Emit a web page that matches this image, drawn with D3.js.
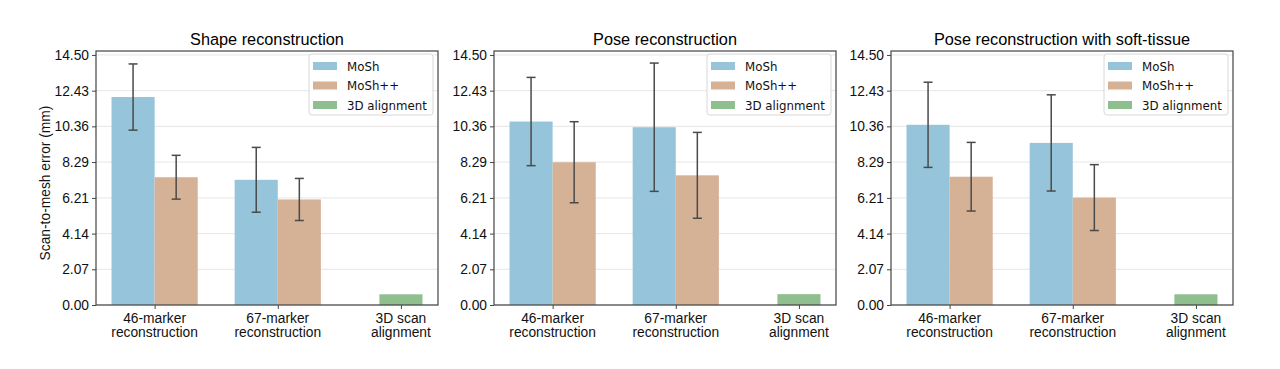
<!DOCTYPE html>
<html>
<head>
<meta charset="utf-8">
<script src="https://cdn.jsdelivr.net/npm/d3@7"></script>
<style>
  body { margin: 0; background: #fff; }
  svg { display: block; }
</style>
</head>
<body>
<div id="chart"></div>
<script>
// Data
const categories = ['46-marker\nreconstruction', '67-marker\nreconstruction', '3D scan\nalignment'];
const titles = ['Shape reconstruction', 'Pose reconstruction', 'Pose reconstruction with soft-tissue'];
const seriesNames = ['MoSh', 'MoSh++', '3D alignment'];
const yTicks = [0, 2.07, 4.14, 6.21, 8.29, 10.36, 12.43, 14.50];

// per panel: [46-marker, 67-marker]
const moshMean = [[12.06, 7.26], [10.64, 10.31], [10.45, 9.40]];
const moshErr  = [[1.92, 1.88], [2.56, 3.72], [2.47, 2.79]];
const moshppMean = [[7.41, 6.12], [8.28, 7.52], [7.44, 6.23]];
const moshppErr  = [[1.27, 1.22], [2.35, 2.49], [1.99, 1.91]];
const alignMean = [0.62, 0.63, 0.62];

const colors = ['#96c4da', '#d5b196', '#8fbf8f'];

const width = 1280, height = 369;
const svg = d3.select('#chart').append('svg')
  .attr('width', width).attr('height', height);

// Layout of the three axes
const panels = [
  { left: 96, right: 438 },
  { left: 494, right: 836 },
  { left: 891, right: 1233 }
];
const plotTop = 51, plotBottom = 305;
const barW = 0.35;

const y = d3.scaleLinear().domain([0, 14.73]).range([plotBottom, plotTop]);

panels.forEach((p, pi) => {
  const x = d3.scaleLinear().domain([-0.476, 2.301]).range([p.left, p.right]);
  const g = svg.append('g');
  const px = v => x(v) - x(0);

  // grid
  g.selectAll('.grid').data(yTicks).enter().append('line')
    .attr('x1', p.left).attr('x2', p.right)
    .attr('y1', d => y(d)).attr('y2', d => y(d))
    .attr('stroke', '#e6e6e6').attr('stroke-width', 1);

  // bars
  const bars = [];
  [0, 1].forEach(ci => {
    bars.push({ x: ci - barW / 2, v: moshMean[pi][ci], e: moshErr[pi][ci], c: colors[0] });
    bars.push({ x: ci + barW / 2, v: moshppMean[pi][ci], e: moshppErr[pi][ci], c: colors[1] });
  });
  bars.push({ x: 2, v: alignMean[pi], e: null, c: colors[2] });

  g.selectAll('.bar').data(bars).enter().append('rect')
    .attr('x', d => x(d.x - barW / 2))
    .attr('width', px(barW))
    .attr('y', d => y(d.v))
    .attr('height', d => y(0) - y(d.v))
    .attr('fill', d => d.c);

  // error bars
  const eb = bars.filter(d => d.e != null);
  g.selectAll('.err').data(eb).enter().append('line')
    .attr('x1', d => x(d.x)).attr('x2', d => x(d.x))
    .attr('y1', d => y(d.v + d.e)).attr('y2', d => y(d.v - d.e))
    .attr('stroke', '#4a4a4a').attr('stroke-width', 1.5);
  [1, -1].forEach(s => {
    g.selectAll('.cap' + s).data(eb).enter().append('line')
      .attr('x1', d => x(d.x) - 4.5).attr('x2', d => x(d.x) + 4.5)
      .attr('y1', d => y(d.v + s * d.e)).attr('y2', d => y(d.v + s * d.e))
      .attr('stroke', '#4a4a4a').attr('stroke-width', 1.5);
  });

  // frame
  g.append('rect')
    .attr('x', p.left).attr('y', plotTop)
    .attr('width', p.right - p.left).attr('height', plotBottom - plotTop)
    .attr('fill', 'none').attr('stroke', '#444').attr('stroke-width', 1.2);

  // y axis
  const yAxis = d3.axisLeft(y).tickValues(yTicks).tickFormat(d3.format('.2f')).tickSize(4).tickPadding(3);
  const ya = g.append('g').attr('transform', `translate(${p.left},0)`).call(yAxis);
  ya.select('.domain').remove();
  ya.selectAll('line').attr('stroke', '#444');
  ya.selectAll('text').attr('font-family', 'Liberation Sans, Arial, sans-serif')
    .attr('font-size', 13.8).attr('fill', '#111');

  // x axis
  const xAxis = d3.axisBottom(x).tickValues([0, 1, 2]).tickFormat('').tickSize(4);
  const xa = g.append('g').attr('transform', `translate(0,${plotBottom})`).call(xAxis);
  xa.select('.domain').remove();
  xa.selectAll('line').attr('stroke', '#444');
  categories.forEach((c, ci) => {
    const t = g.append('text')
      .attr('x', x(ci)).attr('y', plotBottom + 18)
      .attr('text-anchor', 'middle')
      .attr('font-family', 'Liberation Sans, Arial, sans-serif')
      .attr('font-size', 13.8).attr('fill', '#111');
    c.split('\n').forEach((line, li) => {
      t.append('tspan').attr('x', x(ci)).attr('dy', li ? 13.5 : 0).text(line);
    });
  });

  // title
  g.append('text')
    .attr('x', (p.left + p.right) / 2).attr('y', 45)
    .attr('text-anchor', 'middle')
    .attr('font-family', 'Liberation Sans, Arial, sans-serif')
    .attr('font-size', 16.3).attr('fill', '#000')
    .text(titles[pi]);

  // legend
  const lw = 124, lh = 61;
  const lx = p.right - 5 - lw, ly = plotTop + 3;
  const lg = g.append('g').attr('transform', `translate(${lx},${ly})`);
  lg.append('rect').attr('width', lw).attr('height', lh).attr('rx', 3)
    .attr('fill', 'rgba(255,255,255,0.85)').attr('stroke', '#d8d8d8');
  seriesNames.forEach((n, i) => {
    lg.append('rect').attr('x', 4).attr('y', 8 + i * 19.5).attr('width', 24).attr('height', 8)
      .attr('fill', colors[i]);
    lg.append('text').attr('x', 38).attr('y', 16.5 + i * 19.5)
      .attr('font-family', 'DejaVu Sans, sans-serif').attr('font-size', 11.8)
      .attr('fill', '#111').text(n);
  });
});

// y label
svg.append('text')
  .attr('transform', 'translate(50,183) rotate(-90)')
  .attr('text-anchor', 'middle')
  .attr('font-family', 'Liberation Sans, Arial, sans-serif')
  .attr('font-size', 13.8).attr('fill', '#111')
  .text('Scan-to-mesh error (mm)');
</script>
</body>
</html>
